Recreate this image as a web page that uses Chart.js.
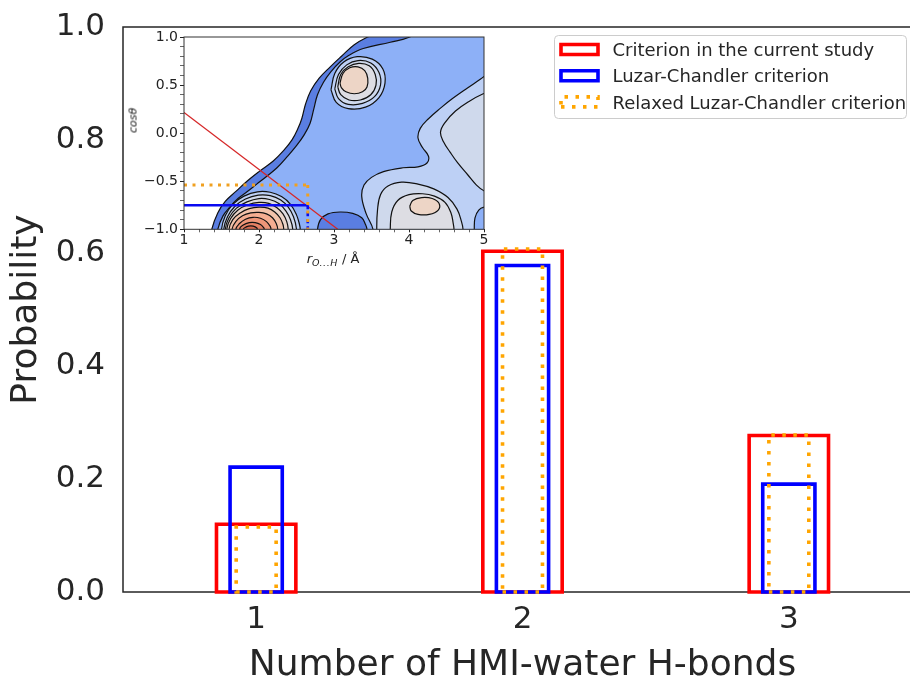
<!DOCTYPE html>
<html>
<head>
<meta charset="utf-8">
<title>HMI-water H-bonds</title>
<script src="https://cdn.jsdelivr.net/npm/chart.js@4.4.1/dist/chart.umd.min.js"></script>
<style>
  html, body { margin: 0; padding: 0; background: #ffffff; }
  #wrap { position: relative; width: 910px; height: 678px; overflow: hidden; background: #ffffff; }
  #main { position: absolute; left: 0; top: 0; }
  #inset { position: absolute; left: 125px; top: 28px; }
  .lbl { position: absolute; font-family: 'DejaVu Sans', sans-serif; color: #222; white-space: nowrap; text-align: center; }
  #cosLabel { left: 113px; top: 113px; width: 40px; height: 15px; line-height: 15px; font-size: 11px; font-style: italic; transform: rotate(-90deg); }
  #rLabel { left: 283px; top: 251px; width: 100px; height: 16px; line-height: 15px; font-size: 13px; }
  #rLabel sub { font-size: 9.5px; vertical-align: -3px; line-height: 0; letter-spacing: 0.5px; }
</style>
</head>
<body>
<div id="wrap">
  <canvas id="main" width="940" height="700"></canvas>
  <canvas id="inset" width="365" height="250"></canvas>
  <div class="lbl" id="cosLabel">cosθ</div>
  <div class="lbl" id="rLabel"><i>r</i><sub><i>O...H</i></sub> / Å</div>
</div>
<script>
const FONT = "'DejaVu Sans', sans-serif";
const INK = '#262626';

// ---- main panel: probability of each number of HMI-water H-bonds ----
const hbondCounts = ['1', '2', '3'];
const probCurrentStudy  = [0.120, 0.603, 0.277];
const probLuzarChandler = [0.221, 0.578, 0.191];
const probRelaxedLC     = [0.115, 0.607, 0.278];
const seriesNames = [
  'Criterion in the current study',
  'Luzar-Chandler criterion',
  'Relaxed Luzar-Chandler criterion'
];
const probTicks = [0.0, 0.2, 0.4, 0.6, 0.8, 1.0];

// ---- inset: distribution over r(O...H) and cos(theta) ----
const rMajorTicks = [1, 2, 3, 4, 5];
const cosMajorTicks = [-1.0, -0.5, 0.0, 0.5, 1.0];

// contour outlines as [r, cosθ]; points past the frame close regions off-axis
const edgeOuter = [[1.30,-1.3],[1.37,-1.0],[1.45,-0.83],[1.55,-0.71],[1.70,-0.60],[1.84,-0.50],[2.00,-0.40],[2.19,-0.29],[2.33,-0.18],[2.44,-0.07],[2.52,0.05],[2.57,0.15],[2.62,0.30],[2.69,0.44],[2.80,0.57],[2.95,0.69],[3.10,0.80],[3.27,0.92],[3.45,1.0],[3.6,1.05],[5.5,1.3],[5.5,-1.3]];
const edgeInner = [[1.38,-1.3],[1.45,-1.0],[1.52,-0.86],[1.61,-0.77],[1.72,-0.68],[1.84,-0.61],[1.97,-0.53],[2.10,-0.45],[2.24,-0.36],[2.37,-0.25],[2.50,-0.13],[2.60,-0.02],[2.68,0.10],[2.73,0.25],[2.78,0.40],[2.86,0.53],[2.96,0.64],[3.08,0.74],[3.20,0.81],[3.39,0.88],[3.75,0.945],[4.01,1.0],[4.2,1.1],[5.5,1.3],[5.5,-1.3]];
const lowBasin = [[2.75,-1.3],[2.78,-1.0],[2.82,-0.90],[2.92,-0.84],[3.08,-0.82],[3.25,-0.835],[3.37,-0.88],[3.42,-0.95],[3.44,-1.0],[3.46,-1.3]];
const rightShelf = [[3.56,-1.3],[3.52,-1.0],[3.43,-0.84],[3.37,-0.66],[3.40,-0.54],[3.50,-0.46],[3.66,-0.40],[3.92,-0.36],[4.12,-0.35],[4.24,-0.31],[4.26,-0.24],[4.18,-0.15],[4.12,-0.05],[4.15,0.05],[4.26,0.15],[4.42,0.26],[4.58,0.36],[4.78,0.47],[4.95,0.56],[5.2,0.7],[5.5,0.8],[5.5,-1.3]];
const cornerDip = [[4.86,-1.3],[4.87,-1.0],[4.88,-0.88],[4.93,-0.80],[5.0,-0.77],[5.2,-0.75],[5.5,-1.3]];
const rightUpper = [[5.3,0.5],[4.99,0.41],[4.80,0.33],[4.62,0.23],[4.48,0.11],[4.42,0.01],[4.46,-0.09],[4.55,-0.20],[4.65,-0.31],[4.78,-0.43],[4.90,-0.54],[5.0,-0.60],[5.3,-0.7]];
const lowRing1 = [[3.58,-1.3],[3.57,-1.0],[3.58,-0.80],[3.62,-0.64],[3.72,-0.55],[3.90,-0.51],[4.12,-0.53],[4.33,-0.58],[4.52,-0.67],[4.64,-0.79],[4.70,-0.92],[4.72,-1.0],[4.73,-1.3]];
const lowRing2 = [[3.74,-1.3],[3.75,-1.0],[3.77,-0.82],[3.85,-0.70],[4.0,-0.64],[4.18,-0.63],[4.34,-0.655],[4.48,-0.72],[4.56,-0.83],[4.59,-0.94],[4.60,-1.0],[4.61,-1.3]];
const lowPeak = [[4.01,-0.76],[4.05,-0.70],[4.17,-0.67],[4.31,-0.68],[4.40,-0.73],[4.39,-0.80],[4.27,-0.845],[4.12,-0.845],[4.03,-0.81],[4.01,-0.76]];
const topRing1 = [[2.96,0.45],[3.01,0.62],[3.13,0.74],[3.31,0.795],[3.51,0.77],[3.65,0.67],[3.68,0.52],[3.60,0.37],[3.42,0.27],[3.19,0.255],[3.03,0.32],[2.96,0.45]];
const topRing2 = [[3.01,0.46],[3.06,0.61],[3.17,0.71],[3.32,0.755],[3.49,0.73],[3.60,0.63],[3.62,0.50],[3.54,0.38],[3.38,0.31],[3.19,0.30],[3.06,0.36],[3.01,0.46]];
const topRing3 = [[3.05,0.48],[3.09,0.61],[3.19,0.69],[3.33,0.725],[3.47,0.70],[3.55,0.61],[3.56,0.50],[3.49,0.40],[3.35,0.345],[3.20,0.345],[3.09,0.40],[3.05,0.48]];
const topPeak = [[3.08,0.52],[3.12,0.62],[3.21,0.68],[3.32,0.69],[3.41,0.65],[3.45,0.57],[3.44,0.48],[3.38,0.43],[3.27,0.41],[3.16,0.43],[3.10,0.47],[3.08,0.52]];
const domeRings = [
  [[1.49,-1.3],[1.50,-1.0],[1.55,-0.86],[1.65,-0.74],[1.80,-0.655],[1.98,-0.61],[2.15,-0.615],[2.30,-0.66],[2.42,-0.74],[2.50,-0.85],[2.54,-0.95],[2.55,-1.0],[2.56,-1.3]],
  [[1.52,-1.3],[1.53,-1.0],[1.58,-0.87],[1.68,-0.76],[1.82,-0.685],[1.99,-0.645],[2.15,-0.65],[2.29,-0.695],[2.39,-0.77],[2.46,-0.87],[2.50,-1.0],[2.51,-1.3]],
  [[1.54,-1.3],[1.55,-1.0],[1.60,-0.88],[1.70,-0.78],[1.84,-0.715],[2.0,-0.68],[2.14,-0.69],[2.27,-0.735],[2.36,-0.81],[2.42,-0.90],[2.45,-1.0],[2.46,-1.3]],
  [[1.56,-1.3],[1.57,-1.0],[1.62,-0.89],[1.72,-0.80],[1.85,-0.745],[2.0,-0.72],[2.13,-0.73],[2.24,-0.775],[2.32,-0.84],[2.37,-0.92],[2.39,-1.0],[2.40,-1.3]],
  [[1.59,-1.3],[1.60,-1.0],[1.65,-0.90],[1.75,-0.83],[1.87,-0.785],[2.0,-0.77],[2.12,-0.78],[2.21,-0.82],[2.28,-0.88],[2.32,-0.95],[2.33,-1.0],[2.34,-1.3]],
  [[1.63,-1.3],[1.64,-1.0],[1.69,-0.92],[1.78,-0.86],[1.89,-0.83],[2.0,-0.825],[2.10,-0.84],[2.18,-0.88],[2.23,-0.94],[2.25,-1.0],[2.26,-1.3]],
  [[1.68,-1.3],[1.69,-1.0],[1.74,-0.94],[1.82,-0.895],[1.92,-0.875],[2.02,-0.885],[2.10,-0.92],[2.15,-0.97],[2.16,-1.0],[2.17,-1.3]],
  [[1.73,-1.3],[1.74,-1.0],[1.79,-0.955],[1.87,-0.93],[1.95,-0.93],[2.02,-0.95],[2.06,-0.98],[2.07,-1.0],[2.08,-1.3]],
  [[1.78,-1.3],[1.79,-1.0],[1.83,-0.975],[1.89,-0.965],[1.95,-0.975],[1.98,-1.0],[1.99,-1.3]]
];

// H-bond criteria drawn on the map
const cutCurrent   = [[1.0, 0.215], [3.05, -1.0]];
const cutLC        = [[1.0, -0.75], [2.65, -0.75]];
const cutLCEdge    = [[2.65, -0.75], [2.65, -1.0]];
const cutRelaxed   = [[1.0, -0.54], [2.65, -0.54]];
const cutRelaxedEdge = [[2.65, -0.54], [2.65, -1.0]];

// ---------------- main bar panel ----------------
const barStyles = [
  { color: '#ff0000', width: 3.6, dash: [], share: 0.298 },
  { color: '#0000ff', width: 3.6, dash: [], share: 0.196 },
  { color: '#ffa500', width: 3.6, dash: [3.5, 7.5], share: 0.150 }
];

function barSet(i, values) {
  return {
    label: seriesNames[i],
    data: values,
    grouped: false,
    categoryPercentage: 1,
    barPercentage: barStyles[i].share,
    backgroundColor: 'rgba(0,0,0,0)',
    borderWidth: 0,
    edge: barStyles[i]
  };
}

const mainFrame = {
  id: 'mainFrame',
  beforeDatasetsDraw(chart) {
    const { ctx, chartArea: a } = chart;
    ctx.save();
    ctx.strokeStyle = INK;
    ctx.lineWidth = 1.5;
    ctx.strokeRect(a.left, a.top, a.right - a.left, a.bottom - a.top);
    ctx.restore();
  }
};

const outlineBars = {
  id: 'outlineBars',
  afterDatasetsDraw(chart) {
    const ctx = chart.ctx;
    chart.data.datasets.forEach((ds, i) => {
      const st = ds.edge;
      const meta = chart.getDatasetMeta(i);
      ctx.save();
      ctx.strokeStyle = st.color;
      ctx.lineWidth = st.width;
      ctx.setLineDash(st.dash);
      ctx.lineCap = 'butt';
      ctx.lineJoin = 'miter';
      meta.data.forEach(bar => {
        const p = bar.getProps(['x', 'y', 'base', 'width'], true);
        const l = p.x - p.width / 2, r = p.x + p.width / 2;
        ctx.beginPath();
        ctx.moveTo(l, p.base);
        ctx.lineTo(r, p.base);
        ctx.lineTo(r, p.y);
        ctx.lineTo(l, p.y);
        ctx.closePath();
        ctx.stroke();
      });
      ctx.restore();
    });
  }
};

const boxLegend = {
  id: 'boxLegend',
  afterDraw(chart) {
    const ctx = chart.ctx;
    ctx.save();
    ctx.beginPath();
    ctx.roundRect(554.5, 35.5, 352, 83, 4);
    ctx.fillStyle = 'rgba(255,255,255,0.85)';
    ctx.fill();
    ctx.strokeStyle = '#cccccc';
    ctx.lineWidth = 1;
    ctx.stroke();
    chart.data.datasets.forEach((ds, i) => {
      const cy = 49.5 + i * 26.2;
      const st = ds.edge;
      ctx.save();
      ctx.strokeStyle = st.color;
      ctx.lineWidth = st.width;
      ctx.setLineDash(st.dash);
      ctx.beginPath();
      ctx.moveTo(561, cy + 5);
      ctx.lineTo(598, cy + 5);
      ctx.lineTo(598, cy - 5);
      ctx.lineTo(561, cy - 5);
      ctx.closePath();
      ctx.stroke();
      ctx.restore();
      ctx.fillStyle = INK;
      ctx.font = '18px ' + FONT;
      ctx.textBaseline = 'alphabetic';
      ctx.textAlign = 'left';
      ctx.fillText(ds.label, 612.5, cy + 6.6);
    });
    ctx.restore();
  }
};

new Chart(document.getElementById('main'), {
  type: 'bar',
  data: {
    labels: hbondCounts,
    datasets: [
      barSet(0, probCurrentStudy),
      barSet(1, probLuzarChandler),
      barSet(2, probRelaxedLC)
    ]
  },
  options: {
    responsive: false,
    animation: false,
    devicePixelRatio: 1,
    layout: { padding: { left: 0, top: 27, right: 18, bottom: 0 } },
    plugins: { legend: { display: false }, tooltip: { enabled: false } },
    scales: {
      x: {
        type: 'category',
        offset: true,
        grid: { display: false, drawTicks: false },
        border: { display: false },
        ticks: { color: INK, padding: 9, maxRotation: 0, font: { family: FONT, size: 31 } },
        title: {
          display: true,
          text: 'Number of HMI-water H-bonds',
          color: INK,
          font: { family: FONT, size: 36 },
          padding: { top: 0, bottom: 13 }
        },
        afterFit(s) { s.height = 108; }
      },
      y: {
        min: 0,
        max: 1,
        grid: { display: false, drawTicks: false },
        border: { display: false },
        afterBuildTicks(s) { s.ticks = probTicks.map(v => ({ value: v })); },
        ticks: {
          color: INK,
          padding: 18,
          font: { family: FONT, size: 31 },
          callback: v => Number(v).toFixed(1)
        },
        title: {
          display: true,
          text: 'Probability',
          color: INK,
          font: { family: FONT, size: 36 },
          padding: { top: 5, bottom: 0 }
        },
        afterFit(s) { s.width = 123; s.paddingTop = 0; s.paddingBottom = 0; }
      }
    }
  },
  plugins: [mainFrame, outlineBars, boxLegend]
});

// ---------------- inset map ----------------
const C_BAND = '#5a7ee2', C_MAIN = '#8db0f7', C_L3 = '#bdd0f5', C_L4 = '#cfd9ec', C_L5 = '#dddde3', C_PEAK = '#edd5c6';
const domeColors = ['#bdd0f5', '#d0d9ec', '#dfdce0', '#ebd4c8', '#f2c2aa', '#f4ad91', '#ee9679', '#e48064', '#d96a50'];

const layers = [
  [edgeOuter, C_BAND], [edgeInner, C_MAIN], [lowBasin, C_BAND], [rightShelf, C_L3],
  [cornerDip, C_MAIN], [rightUpper, C_L4], [lowRing1, C_L4], [lowRing2, C_L5], [lowPeak, C_PEAK],
  [topRing1, C_L3], [topRing2, C_L4], [topRing3, C_L5], [topPeak, C_PEAK]
].concat(domeRings.map((d, i) => [d, domeColors[i]]));

const toXY = pts => pts.map(([x, y]) => ({ x, y }));

const contourSets = layers.map(([pts, col], i) => ({
  data: toXY(pts),
  showLine: true,
  fill: 'shape',
  backgroundColor: col,
  borderColor: '#111111',
  borderWidth: 1.2,
  tension: 0.4,
  pointRadius: 0,
  clip: 0,
  order: 200 - i
}));

const cutSets = [
  { data: toXY(cutCurrent), borderColor: '#d62728', borderWidth: 1.3, borderDash: [] },
  { data: toXY(cutLC), borderColor: '#0a0af0', borderWidth: 2.6, borderDash: [] },
  { data: toXY(cutLCEdge), borderColor: '#0a0af0', borderWidth: 2.6, borderDash: [4, 3] },
  { data: toXY(cutRelaxed), borderColor: '#f0a020', borderWidth: 3, borderDash: [3, 5.5] },
  { data: toXY(cutRelaxedEdge), borderColor: '#f0a020', borderWidth: 3, borderDash: [3, 5.5] }
].map((d, i) => Object.assign(d, {
  showLine: true, fill: false, tension: 0, pointRadius: 0, clip: 0, order: 10 - i
}));

const isMajor = (v, list) => list.some(t => Math.abs(t - v) < 1e-6);

const insetFrame = {
  id: 'insetFrame',
  afterDatasetsDraw(chart) {
    const { ctx, chartArea: a } = chart;
    ctx.save();
    ctx.strokeStyle = '#333333';
    ctx.lineWidth = 1;
    ctx.strokeRect(a.left, a.top, a.right - a.left, a.bottom - a.top);
    ctx.restore();
  }
};

new Chart(document.getElementById('inset'), {
  type: 'scatter',
  data: { datasets: contourSets.concat(cutSets) },
  options: {
    responsive: false,
    animation: false,
    devicePixelRatio: 1,
    layout: { padding: { left: 0, top: 9, right: 6, bottom: 0 } },
    elements: { line: { capBezierPoints: false }, point: { radius: 0 } },
    plugins: { legend: { display: false }, tooltip: { enabled: false } },
    scales: {
      x: {
        type: 'linear',
        min: 1,
        max: 5,
        border: { display: false },
        grid: {
          drawOnChartArea: false,
          drawTicks: true,
          tickLength: 3,
          tickWidth: 1,
          tickColor: c => (c.tick && isMajor(c.tick.value, rMajorTicks)) ? '#222222' : '#666666'
        },
        ticks: {
          stepSize: 0.2,
          autoSkip: false,
          maxTicksLimit: 100,
          maxRotation: 0,
          padding: 0,
          color: '#222222',
          font: { family: FONT, size: 14 },
          callback: v => isMajor(v, rMajorTicks) ? String(Math.round(v)) : ''
        },
        afterFit(s) { s.height = 48.7; }
      },
      y: {
        type: 'linear',
        min: -1,
        max: 1,
        border: { display: false },
        grid: {
          drawOnChartArea: false,
          drawTicks: true,
          tickLength: 4,
          tickWidth: 1,
          tickColor: c => (c.tick && isMajor(c.tick.value, cosMajorTicks)) ? '#222222' : '#666666'
        },
        ticks: {
          stepSize: 0.1,
          autoSkip: false,
          maxTicksLimit: 100,
          padding: 2,
          color: '#222222',
          font: { family: FONT, size: 14 },
          callback: v => isMajor(v, cosMajorTicks) ? Number(v).toFixed(1).replace('-', '\u2212') : ''
        },
        afterFit(s) { s.width = 59; s.paddingTop = 0; s.paddingBottom = 0; }
      }
    }
  },
  plugins: [insetFrame]
});
</script>
</body>
</html>
